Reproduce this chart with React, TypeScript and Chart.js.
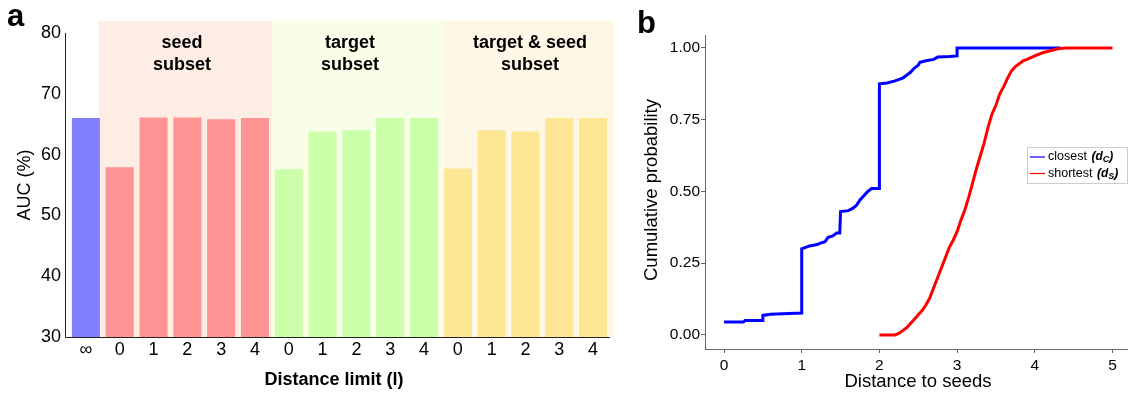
import React, { useEffect, useRef } from "react";
import { Chart, registerables } from "chart.js";

Chart.register(...registerables);

const FONT = "'Liberation Sans', Arial, Helvetica, sans-serif";

// ---------- Panel a data ----------
const barLabels = ["∞", "0", "1", "2", "3", "4", "0", "1", "2", "3", "4", "0", "1", "2", "3", "4"];
const allValue = [66.0];
const seedValues = [57.9, 66.1, 66.1, 65.8, 66.0];
const targetValues = [57.6, 63.8, 64.0, 66.0, 66.0];
const bothValues = [57.7, 64.0, 63.8, 66.0, 66.0];
const aucTicks = [30, 40, 50, 60, 70, 80];
const groupNames = [["seed", "subset"], ["target", "subset"], ["target & seed", "subset"]];

// ---------- Panel b data ----------
const closestX = [0, 0.25, 0.27, 0.5, 0.5, 0.6, 0.75, 1.0, 1.0, 1.05, 1.1, 1.2, 1.24, 1.3, 1.34, 1.4, 1.45, 1.49, 1.5, 1.6, 1.65, 1.7, 1.75, 1.8, 1.85, 1.9, 2.0, 2.0, 2.1, 2.2, 2.3, 2.35, 2.4, 2.45, 2.5, 2.52, 2.6, 2.7, 2.75, 2.9, 3.0, 3.0, 4.33];
const closestY = [0.045, 0.045, 0.05, 0.05, 0.068, 0.072, 0.074, 0.076, 0.30, 0.305, 0.31, 0.315, 0.32, 0.325, 0.34, 0.345, 0.355, 0.355, 0.43, 0.433, 0.44, 0.45, 0.47, 0.485, 0.50, 0.51, 0.51, 0.875, 0.878, 0.885, 0.895, 0.905, 0.915, 0.93, 0.94, 0.95, 0.955, 0.96, 0.968, 0.97, 0.972, 1.0, 1.0];
const shortestX = [2.0, 2.2, 2.25, 2.3, 2.35, 2.4, 2.45, 2.5, 2.55, 2.6, 2.65, 2.7, 2.75, 2.8, 2.85, 2.9, 2.95, 3.0, 3.05, 3.1, 3.15, 3.2, 3.25, 3.3, 3.35, 3.4, 3.45, 3.5, 3.55, 3.6, 3.65, 3.7, 3.75, 3.8, 3.85, 3.9, 4.0, 4.1, 4.2, 4.3, 4.4, 5.0];
const shortestY = [0, 0, 0.005, 0.015, 0.025, 0.04, 0.055, 0.07, 0.085, 0.105, 0.13, 0.165, 0.2, 0.235, 0.27, 0.305, 0.33, 0.36, 0.4, 0.435, 0.48, 0.53, 0.58, 0.625, 0.67, 0.725, 0.77, 0.8, 0.84, 0.865, 0.895, 0.92, 0.935, 0.945, 0.955, 0.96, 0.972, 0.983, 0.99, 0.997, 1.0, 1.0];
const probTicks = [0, 0.25, 0.5, 0.75, 1];
const distTicks = [0, 1, 2, 3, 4, 5];

const COLORS = {
  all: "#8080ff",
  seed: "#fe9494",
  target: "#ccffaa",
  both: "#fee794",
  seedBg: "#fdede4",
  targetBg: "#f8fee8",
  bothBg: "#fef7e6",
};

function panelAPlugin() {
  return {
    id: "panelA",
    beforeDatasetsDraw(chart: any) {
      const { ctx } = chart;
      const xs = chart.scales.x;
      const ys = chart.scales.y;
      const top = ys.getPixelForValue(82);
      const bottom = ys.getPixelForValue(30);
      const bands: [number, number, string][] = [
        [0.38, 5.5, COLORS.seedBg],
        [5.5, 10.58, COLORS.targetBg],
        [10.58, 15.6, COLORS.bothBg],
      ];
      ctx.save();
      for (const [a, b, c] of bands) {
        const x0 = xs.getPixelForValue(a);
        const x1 = Math.min(xs.getPixelForValue(b), chart.width);
        ctx.fillStyle = c;
        ctx.fillRect(x0, top, x1 - x0, bottom - top);
      }
      ctx.restore();
    },
    afterDraw(chart: any) {
      const { ctx } = chart;
      const ys = chart.scales.y;
      const yTop = ys.getPixelForValue(80);
      const yBot = ys.getPixelForValue(30);
      const xL = chart.chartArea.left - 4;
      const xR = chart.chartArea.right;
      ctx.save();
      ctx.strokeStyle = "#222";
      ctx.lineWidth = 1;
      ctx.beginPath();
      ctx.moveTo(xL + 0.5, yTop);
      ctx.lineTo(xL + 0.5, yBot + 0.5);
      ctx.lineTo(xR, yBot + 0.5);
      ctx.stroke();

      ctx.fillStyle = "#000";
      ctx.textAlign = "center";
      ctx.textBaseline = "middle";
      ctx.font = `bold 18px ${FONT}`;
      const centers = [182, 350, 530];
      groupNames.forEach((g, i) => {
        ctx.fillText(g[0], centers[i], 43);
        ctx.fillText(g[1], centers[i], 65);
      });
      ctx.fillText("Distance limit (l)", 334, 380);

      ctx.font = `18px ${FONT}`;
      ctx.save();
      ctx.translate(25, (yTop + yBot) / 2);
      ctx.rotate(-Math.PI / 2);
      ctx.fillText("AUC (%)", 0, 0);
      ctx.restore();

      ctx.font = `bold 31px ${FONT}`;
      ctx.textAlign = "left";
      ctx.textBaseline = "alphabetic";
      ctx.fillText("a", 7, 26);
      ctx.restore();
    },
  };
}

function panelBPlugin() {
  return {
    id: "panelB",
    afterDraw(chart: any) {
      const { ctx } = chart;
      ctx.save();
      ctx.fillStyle = "#000";
      ctx.textAlign = "center";
      ctx.textBaseline = "middle";
      ctx.font = `18.5px ${FONT}`;
      ctx.fillText("Distance to seeds", 298, 382);
      ctx.save();
      ctx.translate(32, 190);
      ctx.rotate(-Math.PI / 2);
      ctx.fillText("Cumulative probability", 0, 0);
      ctx.restore();

      ctx.font = `bold 31px ${FONT}`;
      ctx.textAlign = "left";
      ctx.textBaseline = "alphabetic";
      ctx.fillText("b", 17, 33);

      // legend
      const bx = 407, by = 147, bw = 100, bh = 36;
      ctx.fillStyle = "#fff";
      ctx.fillRect(bx, by, bw, bh);
      ctx.strokeStyle = "#cccccc";
      ctx.lineWidth = 1;
      ctx.strokeRect(bx + 0.5, by + 0.5, bw, bh);
      const rows: [string, string, string][] = [
        ["closest", "C", "#0000ff"],
        ["shortest", "S", "#ff0000"],
      ];
      rows.forEach(([name, sub, col], i) => {
        const y = 157 + i * 16.5;
        ctx.strokeStyle = col;
        ctx.lineWidth = 1.2;
        ctx.beginPath();
        ctx.moveTo(410, y);
        ctx.lineTo(425, y);
        ctx.stroke();
        ctx.fillStyle = "#000";
        ctx.textBaseline = "middle";
        ctx.font = `12.5px ${FONT}`;
        ctx.fillText(name, 428, y);
        let x = 428 + ctx.measureText(name).width + 4.5;
        ctx.font = `italic bold 12px ${FONT}`;
        ctx.fillText("(d", x, y);
        x += ctx.measureText("(d").width;
        ctx.font = `italic bold 9px ${FONT}`;
        ctx.fillText(sub, x, y + 3);
        x += ctx.measureText(sub).width;
        ctx.font = `italic bold 12px ${FONT}`;
        ctx.fillText(")", x, y);
      });
      ctx.restore();
    },
  };
}

export default function App() {
  const refA = useRef<HTMLCanvasElement>(null);
  const refB = useRef<HTMLCanvasElement>(null);

  useEffect(() => {
    document.body.style.margin = "0";
    const values = [...allValue, ...seedValues, ...targetValues, ...bothValues];
    const colors = [
      ...allValue.map(() => COLORS.all),
      ...seedValues.map(() => COLORS.seed),
      ...targetValues.map(() => COLORS.target),
      ...bothValues.map(() => COLORS.both),
    ];
    const chartA = new Chart(refA.current!, {
      type: "bar",
      data: {
        labels: barLabels,
        datasets: [
          {
            data: values,
            backgroundColor: colors,
            borderWidth: 0,
            barPercentage: 0.83,
            categoryPercentage: 1,
          },
        ],
      },
      options: {
        responsive: false,
        animation: false,
        layout: { padding: { top: 33, right: 10, left: 0, bottom: 0 } },
        plugins: { legend: { display: false }, tooltip: { enabled: false } },
        scales: {
          x: {
            type: "category",
            grid: { display: false, drawTicks: false },
            border: { display: false },
            ticks: { font: { size: 18, family: FONT }, color: "#000", padding: 2, maxRotation: 0, autoSkip: false },
            afterFit: (s: any) => {
              s.height = 57;
            },
          },
          y: {
            min: 30,
            max: 80,
            grid: { display: false, drawTicks: false },
            border: { display: false },
            ticks: { font: { size: 18, family: FONT }, color: "#000", padding: 8 },
            afterBuildTicks: (s: any) => {
              s.ticks = aucTicks.map((v) => ({ value: v }));
            },
            afterFit: (s: any) => {
              s.width = 69;
            },
          },
        },
      },
      plugins: [panelAPlugin()],
    } as any);

    const chartB = new Chart(refB.current!, {
      type: "line",
      data: {
        datasets: [
          {
            label: "closest",
            data: closestX.map((x, i) => ({ x, y: closestY[i] })),
            borderColor: "#0000ff",
            borderWidth: 3,
            pointRadius: 0,
            tension: 0,
            fill: false,
            order: 2,
          },
          {
            label: "shortest",
            data: shortestX.map((x, i) => ({ x, y: shortestY[i] })),
            borderColor: "#ff0000",
            borderWidth: 3,
            pointRadius: 0,
            tension: 0,
            fill: false,
            order: 1,
          },
        ],
      },
      options: {
        responsive: false,
        animation: false,
        layout: { padding: { top: 35, right: 0, left: 0, bottom: 0 } },
        plugins: { legend: { display: false }, tooltip: { enabled: false } },
        scales: {
          x: {
            type: "linear",
            min: -0.245,
            max: 5.2,
            grid: { drawOnChartArea: false, drawTicks: true, tickLength: 4, color: "#666" },
            border: { color: "#666", width: 1 },
            ticks: { font: { size: 15.5, family: FONT }, color: "#000", padding: 3, callback: (v: any) => String(v) },
            afterBuildTicks: (s: any) => {
              s.ticks = distTicks.map((v) => ({ value: v }));
            },
            afterFit: (s: any) => {
              s.height = 45;
            },
          },
          y: {
            type: "linear",
            min: -0.049,
            max: 1.045,
            grid: { drawOnChartArea: false, drawTicks: true, tickLength: 4, color: "#666" },
            border: { color: "#666", width: 1 },
            ticks: { font: { size: 15.5, family: FONT }, color: "#000", padding: 1, callback: (v: any) => Number(v).toFixed(2) },
            afterBuildTicks: (s: any) => {
              s.ticks = probTicks.map((v) => ({ value: v }));
            },
            afterFit: (s: any) => {
              s.width = 85;
            },
          },
        },
      },
      plugins: [panelBPlugin()],
    } as any);

    return () => {
      chartA.destroy();
      chartB.destroy();
    };
  }, []);

  return (
    <div style={{ position: "relative", width: 1128, height: 394, background: "#fff" }}>
      <canvas ref={refA} width={620} height={394} style={{ position: "absolute", left: 0, top: 0, width: 620, height: 394 }} />
      <canvas ref={refB} width={508} height={394} style={{ position: "absolute", left: 620, top: 0, width: 508, height: 394 }} />
    </div>
  );
}
